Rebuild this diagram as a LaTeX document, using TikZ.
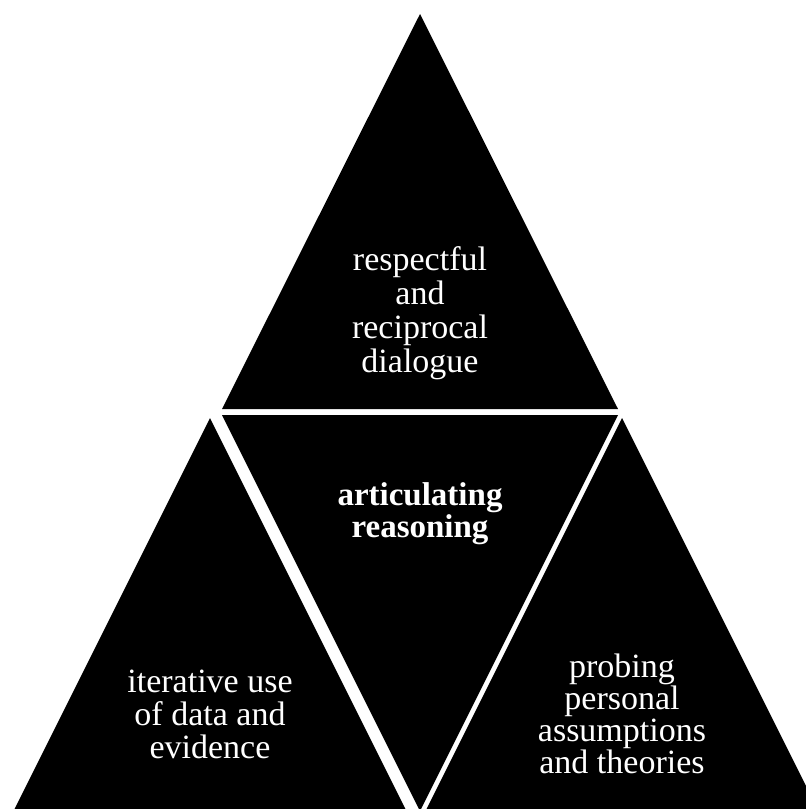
\documentclass[tikz,border=0pt]{standalone}
\usepackage{fontspec}
\setmainfont{Liberation Serif}
\begin{document}
\begin{tikzpicture}[x=1pt,y=-1pt,
  tri/.style={fill=black,draw=none},
  lbl/.style={text=white,align=center,font=\fontsize{34}{34}\selectfont,inner sep=0pt,anchor=base},
  blbl/.style={text=white,align=center,font=\fontsize{33}{32}\selectfont\bfseries,inner sep=0pt,anchor=base}]
\useasboundingbox (0,0) rectangle (806,809);
\clip (0,0) rectangle (806,809);
\fill[white] (0,0) rectangle (806,809);
% triangles
\coordinate (tA) at (420,14);
\coordinate (tL) at (222,409);
\coordinate (tR) at (618,409);
\coordinate (cL) at (222,415);
\coordinate (cR) at (618,415);
\coordinate (cB) at (420,811);
\coordinate (lA) at (210,418);
\coordinate (lL) at (14,810);
\coordinate (lR) at (406,810);
\coordinate (rA) at (622,418);
\coordinate (rL) at (426,810);
\coordinate (rR) at (818,810);
\fill[tri] (tA) -- (tL) -- (tR) -- cycle;
\fill[tri] (cL) -- (cR) -- (cB) -- cycle;
\fill[tri] (lA) -- (lL) -- (lR) -- cycle;
\fill[tri] (rA) -- (rL) -- (rR) -- cycle;
% labels (base anchor = baseline of last line)
\node[lbl] (top) at (420,372) {respectful\\and\\reciprocal\\dialogue};
\node[blbl] (mid) at (420,537) {articulating\\reasoning};
\node[lbl,font=\fontsize{34}{33}\selectfont] (left) at (210,758) {iterative use\\of data and\\evidence};
\node[lbl,font=\fontsize{34}{32}\selectfont] (right) at (622,773) {probing\\personal\\assumptions\\and theories};
\end{tikzpicture}
\end{document}
